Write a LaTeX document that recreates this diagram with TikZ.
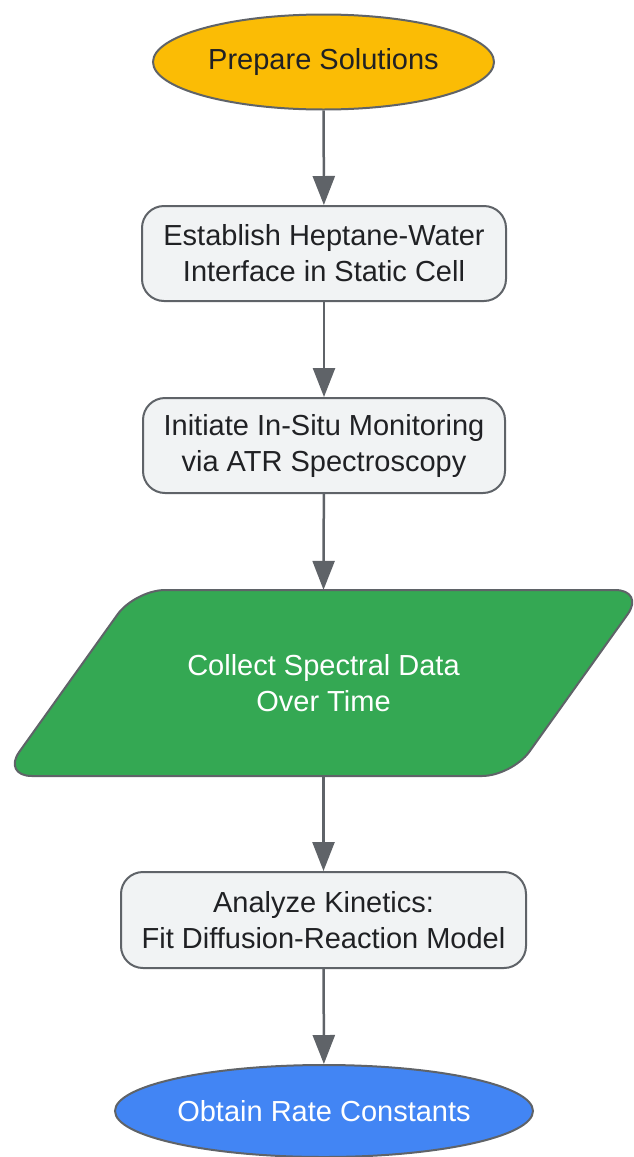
\documentclass[tikz,border=0pt]{standalone}
\usepackage{fontspec}
\setmainfont{Liberation Sans}
\usetikzlibrary{shapes.geometric,arrows.meta}
\definecolor{edgegray}{HTML}{5F6368}
\definecolor{boxfill}{HTML}{F1F3F4}
\definecolor{txtdark}{HTML}{202124}
\definecolor{startfill}{HTML}{FBBC05}
\definecolor{datafill}{HTML}{34A853}
\definecolor{endfill}{HTML}{4285F4}
\begin{document}
\begin{tikzpicture}[x=1pt,y=-1pt,
  every node/.style={font=\fontsize{29}{36}\selectfont, align=center, inner sep=0pt},
  termnode/.style={ellipse, draw=edgegray, line width=2pt},
  procbox/.style={rectangle, rounded corners=22pt, draw=edgegray, line width=2pt, fill=boxfill, text=txtdark},
  flowarrow/.style={draw=edgegray, line width=2.5pt, -{Triangle[width=22pt,length=29pt]}}
]
\useasboundingbox (0,0) rectangle (634,1157);
\node[termnode, fill=startfill, text=txtdark, minimum width=341pt, minimum height=95pt] (prep) at (323.5,62) {Prepare Solutions};
\node[procbox, minimum width=364pt, minimum height=95pt] (estab) at (324,253.5) {Establish Heptane-Water\\Interface in Static Cell};
\node[procbox, minimum width=362pt, minimum height=95pt] (init) at (324,445.5) {Initiate In-Situ Monitoring\\via ATR Spectroscopy};
\draw[edgegray, line width=2pt, fill=datafill, rounded corners=30pt]
  (135,590) -- (645,590) -- (512,776) -- (2,776) -- cycle;
\node[text=white, minimum width=300pt, minimum height=186pt] (collect) at (323.5,683) {Collect Spectral Data\\Over Time};
\node[procbox, minimum width=405pt, minimum height=96pt] (analyze) at (323.5,920) {Analyze Kinetics:\\Fit Diffusion-Reaction Model};
\node[termnode, fill=endfill, text=white, minimum width=418pt, minimum height=92pt] (obtain) at (324,1111) {Obtain Rate Constants};
\draw[flowarrow] (prep) -- (estab);
\draw[flowarrow] (estab) -- (init);
\draw[flowarrow] (init) -- (collect.north);
\draw[flowarrow] (collect.south) -- (analyze);
\draw[flowarrow] (analyze) -- (obtain);
\end{tikzpicture}
\end{document}
